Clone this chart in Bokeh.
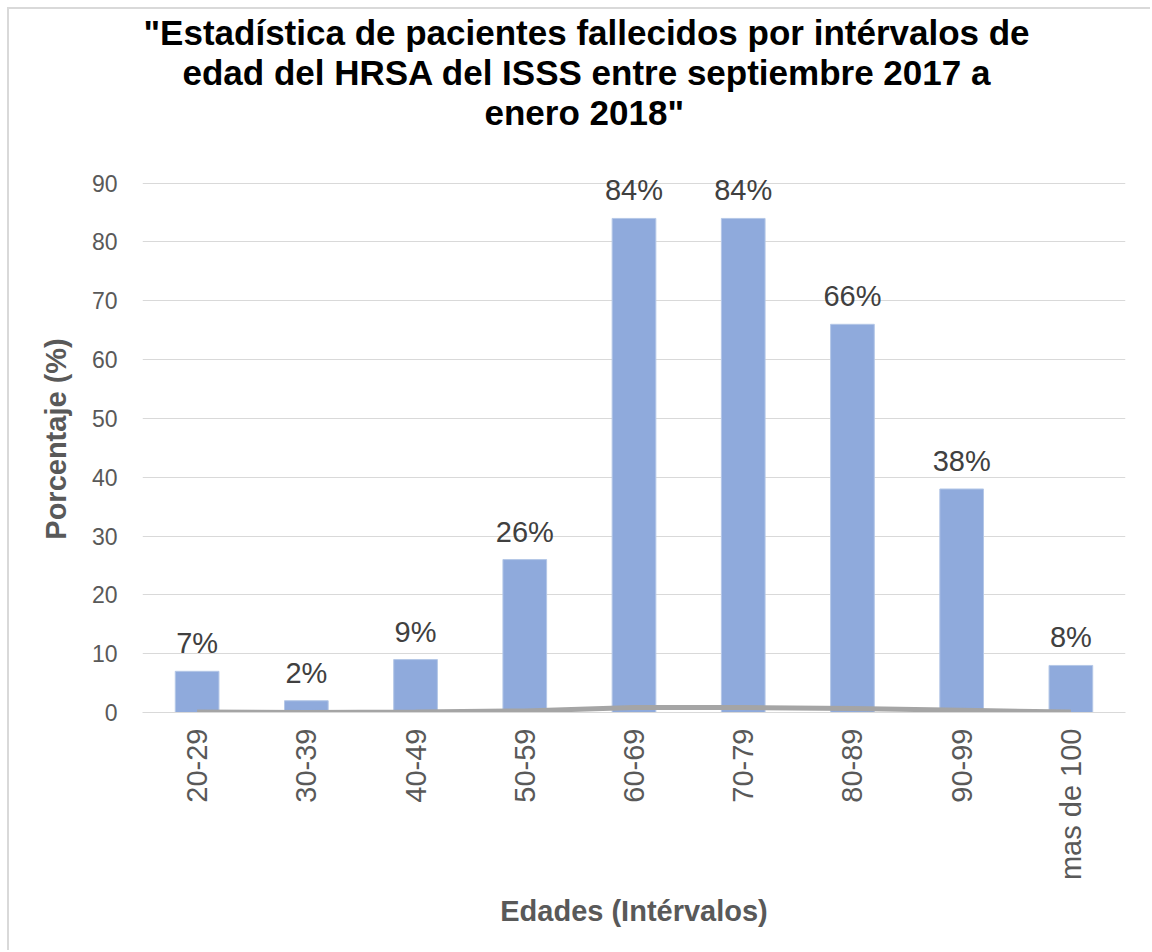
import math
from bokeh.plotting import figure
from bokeh.models import Title, FactorRange, Range1d, FixedTicker, ColumnDataSource
from bokeh.core.properties import value
from bokeh.embed import file_html
from bokeh.resources import INLINE

categories = ["20-29", "30-39", "40-49", "50-59", "60-69", "70-79", "80-89", "90-99", "mas de 100"]
percentages = [7, 2, 9, 26, 84, 84, 66, 38, 8]
fractions = [0.07, 0.02, 0.09, 0.26, 0.84, 0.84, 0.66, 0.38, 0.08]
bar_labels = ["7%", "2%", "9%", "26%", "84%", "84%", "66%", "38%", "8%"]
y_ticks = [0, 10, 20, 30, 40, 50, 60, 70, 80, 90]
title_lines = [
    '"Estadística de pacientes fallecidos por intérvalos de',
    'edad del HRSA del ISSS entre septiembre 2017 a',
    'enero 2018"',
]
title_left_offsets = [1, 40, 342]   # px from the plot-area left edge
x_title = "Edades (Intérvalos)"
y_title = "Porcentaje (%)"

FONT = "Liberation Sans"

W, H = 1143, 943
# axis maximum is 90; a little headroom keeps the top value labels unclipped
Y_MAX_VIEW = 93
PX_PER_UNIT = 529 / 90
HEADROOM = round((Y_MAX_VIEW - 90) * PX_PER_UNIT)

src = ColumnDataSource(dict(cat=categories, pct=percentages, frac=fractions, lab=bar_labels))

p = figure(
    width=W, height=H,
    x_range=FactorRange(*categories, range_padding=0),
    y_range=Range1d(0, Y_MAX_VIEW),
    output_backend="svg", toolbar_location=None,
    min_border_left=133, min_border_right=27,
    min_border_bottom=240, min_border_top=174 - HEADROOM,
)
p.styles = {"margin-left": "7px", "margin-top": "7px",
            "border-left": "2px solid #D9D9D9", "border-top": "2px solid #D9D9D9"}
p.outline_line_color = None
p.background_fill_color = "white"
p.border_fill_color = "white"

p.vbar(x="cat", top="pct", width=0.4, source=src, fill_color="#8FAADC", line_color="#B4C7E7", line_width=1)
p.line(x="cat", y="frac", source=src, line_color="#A5A5A5", line_width=5)
p.text(x="cat", y="pct", text="lab", source=src, text_align="center", text_baseline="alphabetic",
       y_offset=-28, text_font=value(FONT), text_font_size="29px", text_color="#404040")

# spacer nearest the plot area, then the title lines (last added is outermost)
p.add_layout(Title(text=" ", text_font=FONT, text_font_size="29px", standoff=0), "above")
for line, off in zip(reversed(title_lines), reversed(title_left_offsets)):
    p.add_layout(Title(text=line, align="left", offset=off, text_font=FONT, text_font_size="35px",
                       text_font_style="bold", text_color="#000000", standoff=-1), "above")

p.ygrid.grid_line_color = "#D9D9D9"
p.ygrid.grid_line_width = 1
p.xgrid.grid_line_color = None

p.yaxis.ticker = FixedTicker(ticks=y_ticks)
p.yaxis.axis_line_color = None
p.yaxis.major_tick_line_color = None
p.yaxis.minor_tick_line_color = None
p.yaxis.major_tick_out = 0
p.yaxis.major_tick_in = 0
p.yaxis.major_label_standoff = 25
p.yaxis.major_label_text_font = FONT
p.yaxis.major_label_text_font_size = "23px"
p.yaxis.major_label_text_color = "#595959"
p.yaxis.axis_label = y_title
p.yaxis.axis_label_text_font = FONT
p.yaxis.axis_label_text_font_size = "29px"
p.yaxis.axis_label_text_font_style = "bold"
p.yaxis.axis_label_text_color = "#595959"
p.yaxis.axis_label_standoff = 17

p.xaxis.axis_line_color = "#D9D9D9"
p.xaxis.major_tick_line_color = None
p.xaxis.major_tick_out = 0
p.xaxis.major_tick_in = 0
p.xaxis.major_label_orientation = math.pi / 2
p.xaxis.major_label_standoff = 16
p.xaxis.major_label_text_font = FONT
p.xaxis.major_label_text_font_size = "29px"
p.xaxis.major_label_text_color = "#595959"
p.xaxis.axis_label = x_title
p.xaxis.axis_label_text_font = FONT
p.xaxis.axis_label_text_font_size = "29px"
p.xaxis.axis_label_text_font_style = "bold"
p.xaxis.axis_label_text_color = "#595959"
p.xaxis.axis_label_standoff = 12

open("out.html", "w").write(file_html(p, INLINE))
